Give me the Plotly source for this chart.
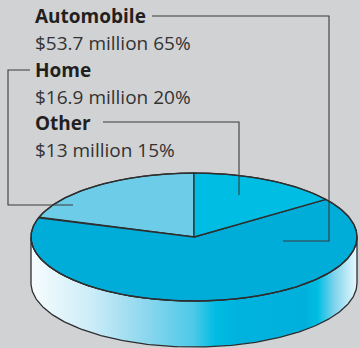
import numpy as np
import plotly.graph_objects as go

# Premium data by line of business
categories = ["Automobile", "Home", "Other"]
amount_labels = ["$53.7 million", "$16.9 million", "$13 million"]
percent_shares = [65, 20, 15]

# Slice colours on the top face
slice_colors = {"Automobile": "#00ADD9", "Home": "#6DCCE7", "Other": "#00BEE3"}

W, H = 360, 348
BG = "#D1D2D4"
EDGE = "#2E2E2E"

# Ellipse geometry of the tilted disc (pixel space, y pointing down)
cx, cy, rx, ry, depth = 194, 237, 163, 64, 46


def ell(t_deg, dy=0.0, frac=1.0):
    t = np.radians(t_deg)
    return cx + frac * rx * np.cos(t), cy + dy - frac * ry * np.sin(t)


fig = go.Figure()

# Front side wall of the disc, shaded with a horizontal gradient
t_front = np.linspace(180, 360, 200)
xt, yt = ell(t_front)
xb, yb = ell(t_front[::-1], dy=depth)
side_x = np.concatenate([xt, xb, xt[:1]])
side_y = np.concatenate([yt, yb, yt[:1]])
fig.add_trace(go.Scatter(
    x=side_x, y=side_y, mode="lines", fill="toself",
    line=dict(color=EDGE, width=1.3),
    fillgradient=dict(
        type="horizontal",
        colorscale=[
            [0.0, "#F7FCFE"], [0.18, "#CDEDF8"], [0.35, "#8ED7EE"],
            [0.50, "#4CC9E8"], [0.565, "#00BCE3"], [0.63, "#00B3DE"],
            [0.84, "#00B0DC"], [0.88, "#00BEE3"], [0.93, "#7ED3EC"],
            [1.0, "#EAF8FC"],
        ],
    ),
    hoverinfo="skip", showlegend=False,
))

# Top face slices: Home and Automobile run counter-clockwise from 12 o'clock,
# Other closes the circle back to 12 o'clock
order = ["Home", "Automobile", "Other"]
share = dict(zip(categories, percent_shares))
start = 90.0
for name in order:
    sweep = 360.0 * share[name] / sum(percent_shares)
    t = np.linspace(start, start + sweep, max(int(sweep), 2) * 2)
    ax, ay = ell(t)
    px = np.concatenate([[cx], ax, [cx]])
    py = np.concatenate([[cy], ay, [cy]])
    fig.add_trace(go.Scatter(
        x=px, y=py, mode="lines", fill="toself",
        fillcolor=slice_colors[name],
        line=dict(color=EDGE, width=1.3),
        name=name, hoverinfo="name", showlegend=False,
    ))
    start += sweep

# Outline of the full top ellipse
t_all = np.linspace(0, 360, 400)
ox, oy = ell(t_all)
fig.add_trace(go.Scatter(x=ox, y=oy, mode="lines",
                         line=dict(color=EDGE, width=1.3),
                         hoverinfo="skip", showlegend=False))

# Leader lines from each label to its slice
leaders = {
    "Automobile": ([152, 329, 329, 283], [16, 16, 241, 241]),
    "Home": ([30, 8, 8, 73], [70, 70, 205, 205]),
    "Other": ([103, 239, 239], [122, 122, 195]),
}
for name, (lx, ly) in leaders.items():
    fig.add_trace(go.Scatter(x=lx, y=ly, mode="lines",
                             line=dict(color="#3A3A3A", width=1.1),
                             hoverinfo="skip", showlegend=False))

# Text labels: semibold name, then amount and share
label_rows = {"Automobile": 16, "Home": 70, "Other": 123}
for name, amt, pct in zip(categories, amount_labels, percent_shares):
    y0 = label_rows[name]
    fig.add_annotation(x=34, y=y0, text=name, showarrow=False,
                       xanchor="left", yanchor="middle", borderpad=0,
                       font=dict(family="Open Sans", size=19, weight=700,
                                 color="#231F20"))
    fig.add_annotation(x=34, y=y0 + 27, text=f"{amt} {pct}%", showarrow=False,
                       xanchor="left", yanchor="middle", borderpad=0,
                       font=dict(family="Open Sans", size=19, weight=400,
                                 color="#333333"))

fig.update_layout(
    width=W, height=H,
    margin=dict(l=0, r=0, t=0, b=0, pad=0),
    paper_bgcolor=BG, plot_bgcolor=BG,
    xaxis=dict(range=[0, W], visible=False, fixedrange=True),
    yaxis=dict(range=[H, 0], visible=False, fixedrange=True),
)

fig.write_html("out.html")
